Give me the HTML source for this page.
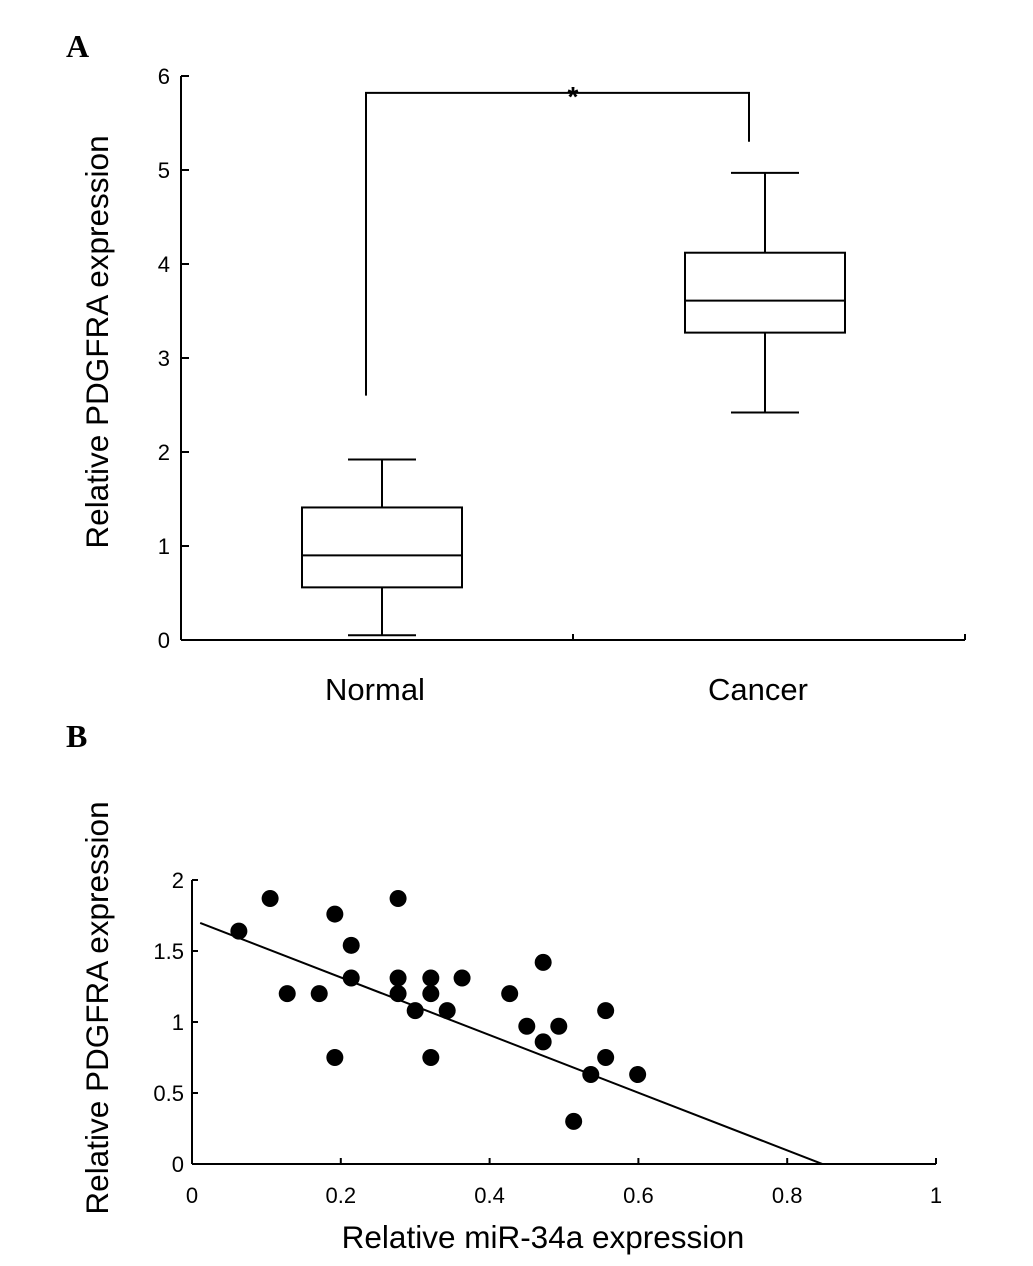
<!DOCTYPE html>
<html><head><meta charset="utf-8">
<style>
body{margin:0;background:#fff;}
svg{display:block;font-family:"Liberation Sans",sans-serif;}
</style></head>
<body>
<svg id="c" width="1033" height="1266" viewBox="0 0 1033 1266">
<text x="66" y="57" font-family="Liberation Serif" font-weight="bold" font-size="32">A</text>
<text x="66" y="747" font-family="Liberation Serif" font-weight="bold" font-size="32">B</text>
<g id="pa"></g>
<g id="pb"></g>
</svg>
<script>
const categories=["Normal","Cancer"];
const boxMin=[0.05,2.42];
const boxQ1=[0.56,3.27];
const boxMedian=[0.9,3.61];
const boxQ3=[1.41,4.12];
const boxMax=[1.92,4.97];
const yTicksA=[0,1,2,3,4,5,6];
const bracketLeft=2.6, bracketTop=5.82, bracketRight=5.3;

const xsB=[0.063,0.105,0.128,0.171,0.192,0.192,0.214,0.214,0.277,0.277,0.277,0.300,0.321,0.321,0.321,0.343,0.363,0.427,0.450,0.472,0.472,0.493,0.513,0.536,0.556,0.556,0.599];
const ysB=[1.64,1.87,1.20,1.20,1.76,0.75,1.54,1.31,1.87,1.31,1.20,1.08,1.31,1.20,0.75,1.08,1.31,1.20,0.97,1.42,0.86,0.97,0.30,0.63,1.08,0.75,0.63];
const xTicksB=[0,0.2,0.4,0.6,0.8,1];
const xTickLabelsB=["0","0.2","0.4","0.6","0.8","1"];
const yTicksB=[0,0.5,1,1.5,2];
const yTickLabelsB=["0","0.5","1","1.5","2"];
const fitSlope=-2.03, fitIntercept=1.72, fitX0=0.011, fitX1=0.847;

const NS="http://www.w3.org/2000/svg";
function mk(p,t,a,txt){const e=document.createElementNS(NS,t);for(const k in a)e.setAttribute(k,a[k]);if(txt!=null)e.textContent=txt;p.appendChild(e);return e;}
const ln={stroke:"#000","stroke-width":2,fill:"none"};

// Panel A
const pa=document.getElementById('pa');
const yA=v=>640-v*94;
const xA=i=>[382,765][i];
let e=mk(pa,'line',Object.assign({x1:181,y1:76,x2:181,y2:640},ln));


e=mk(pa,'line',Object.assign({x1:181,y1:640,x2:965,y2:640},ln));


[573,965].forEach(x=>mk(pa,'line',Object.assign({x1:x,y1:640,x2:x,y2:634},ln)));
yTicksA.forEach(v=>{
 mk(pa,'line',Object.assign({x1:181,y1:yA(v),x2:189,y2:yA(v)},ln));
 e=mk(pa,'text',{x:170,y:yA(v)+8,'text-anchor':'end','font-size':22},String(v));
 
 
});
e=mk(pa,'text',{x:0,y:0,transform:'translate(108,342) rotate(-90)','text-anchor':'middle','font-size':31.5},'Relative PDGFRA expression');


categories.forEach((c,i)=>{
 const cx=xA(i),g=mk(pa,'g',{});
 
 
 mk(g,'rect',Object.assign({x:cx-80,y:yA(boxQ3[i]),width:160,height:yA(boxQ1[i])-yA(boxQ3[i])},ln));
 mk(g,'line',Object.assign({x1:cx-80,x2:cx+80,y1:yA(boxMedian[i]),y2:yA(boxMedian[i])},ln));
 mk(g,'line',Object.assign({x1:cx,x2:cx,y1:yA(boxQ3[i]),y2:yA(boxMax[i])},ln));
 mk(g,'line',Object.assign({x1:cx,x2:cx,y1:yA(boxQ1[i]),y2:yA(boxMin[i])},ln));
 mk(g,'line',Object.assign({x1:cx-34,x2:cx+34,y1:yA(boxMax[i]),y2:yA(boxMax[i])},ln));
 mk(g,'line',Object.assign({x1:cx-34,x2:cx+34,y1:yA(boxMin[i]),y2:yA(boxMin[i])},ln));
 e=mk(pa,'text',{x:cx-7,y:700,'text-anchor':'middle','font-size':31},c);
 
 
});
e=mk(pa,'polyline',Object.assign({points:`366,${yA(bracketLeft)} 366,${yA(bracketTop)} 749,${yA(bracketTop)} 749,${yA(bracketRight)}`},ln));


e=mk(pa,'text',{x:573,y:yA(bracketTop)+13,'text-anchor':'middle','font-size':28,'font-weight':'bold'},'*');



// Panel B
const pb=document.getElementById('pb');
const xB=v=>192+v*744, yB=v=>1164-v*142;
e=mk(pb,'line',Object.assign({x1:192,y1:yB(2),x2:192,y2:1164},ln));


e=mk(pb,'line',Object.assign({x1:192,y1:1164,x2:936,y2:1164},ln));


yTicksB.forEach((v,i)=>{
 mk(pb,'line',Object.assign({x1:192,x2:198,y1:yB(v),y2:yB(v)},ln));
 e=mk(pb,'text',{x:184,y:yB(v)+8,'text-anchor':'end','font-size':22},yTickLabelsB[i]);
 
 
});
xTicksB.forEach((v,i)=>{
 mk(pb,'line',Object.assign({x1:xB(v),x2:xB(v),y1:1164,y2:1158},ln));
 e=mk(pb,'text',{x:xB(v),y:1203,'text-anchor':'middle','font-size':22},xTickLabelsB[i]);
 
 
});
e=mk(pb,'text',{x:0,y:0,transform:'translate(108,1008) rotate(-90)','text-anchor':'middle','font-size':31.5},'Relative PDGFRA expression');


e=mk(pb,'text',{x:543,y:1248,'text-anchor':'middle','font-size':31.5},'Relative miR-34a expression');


e=mk(pb,'line',Object.assign({x1:xB(fitX0),y1:yB(fitIntercept+fitSlope*fitX0),x2:xB(fitX1),y2:yB(fitIntercept+fitSlope*fitX1)},ln));


xsB.forEach((x,i)=>{
 const d=mk(pb,'circle',{cx:xB(x),cy:yB(ysB[i]),r:8.5,fill:'#000'});
 
 
});
</script>
</body></html>
